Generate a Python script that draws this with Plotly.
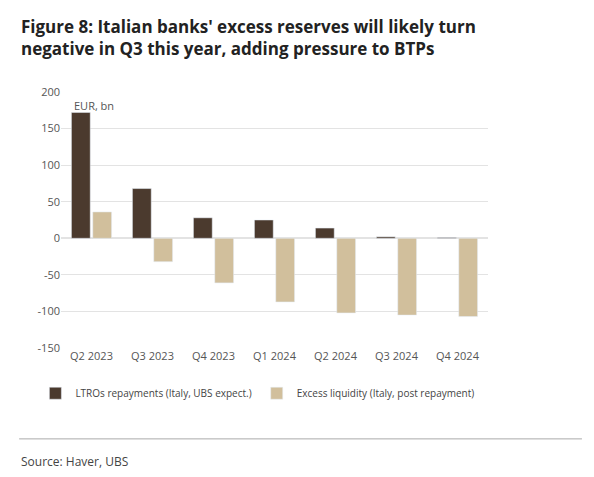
import plotly.graph_objects as go

categories = ["Q2 2023","Q3 2023","Q4 2023","Q1 2024","Q2 2024","Q3 2024","Q4 2024"]
ltro = [172, 68, 28, 25, 14, 2, 1]
excess = [36, -32, -61, -87, -102, -105, -107]
ytick_vals = [-150, -100, -50, 0, 50, 100, 150, 200]
ytick_text = ["-150", "-100", "-50", "0", "50", "100", "150", "200"]

fig = go.Figure()
fig.add_bar(x=categories, y=ltro, name="LTROs repayments (Italy, UBS expect.)", marker_color="#4b3a2e")
fig.add_bar(x=categories, y=excess, name="Excess liquidity (Italy, post repayment)", marker_color="#d1bf9c")
fig.update_layout(
    width=594, height=477, paper_bgcolor="white", plot_bgcolor="white",
    font=dict(family="Open Sans", color="#555", size=11),
    margin=dict(l=53, r=114, t=84, b=137),
    bargap=0.3, bargroupgap=0.12,
    showlegend=True,
    legend=dict(orientation="h", x=-0.06, y=-0.12, xanchor="left", yanchor="top",
                font=dict(size=10, color="#444"), itemwidth=30, tracegroupgap=0),
    yaxis=dict(range=[-150, 200], tickvals=ytick_vals, ticktext=ytick_text, showgrid=True, gridcolor="#e3e3e3",
               zeroline=True, zerolinecolor="#e3e3e3", ticks="", tickfont=dict(size=11)),
    xaxis=dict(showline=False, ticks="", tickfont=dict(size=11)),
    annotations=[
        dict(text="<b>Figure 8: Italian banks' excess reserves will likely turn<br>negative in Q3 this year, adding pressure to BTPs</b>",
             xref="paper", yref="paper", x=-0.098, y=1.0, xanchor="left", yanchor="bottom",
             yshift=30, align="left", showarrow=False, font=dict(size=17, color="#222", family="Open Sans")),
        dict(text="EUR, bn", xref="paper", yref="paper", x=0.025, y=0.985, xanchor="left", yanchor="top",
             showarrow=False, font=dict(size=11, color="#555")),
        dict(text="Source: Haver, UBS", xref="paper", yref="paper", x=-0.098, y=-0.445, xanchor="left",
             yanchor="middle", showarrow=False, font=dict(size=12, color="#444")),
    ],
    shapes=[dict(type="line", xref="paper", yref="paper", x0=-0.098, x1=1.22, y0=-0.355, y1=-0.355,
                 line=dict(color="#aaa", width=1))],
)
fig.write_html("out.html")
